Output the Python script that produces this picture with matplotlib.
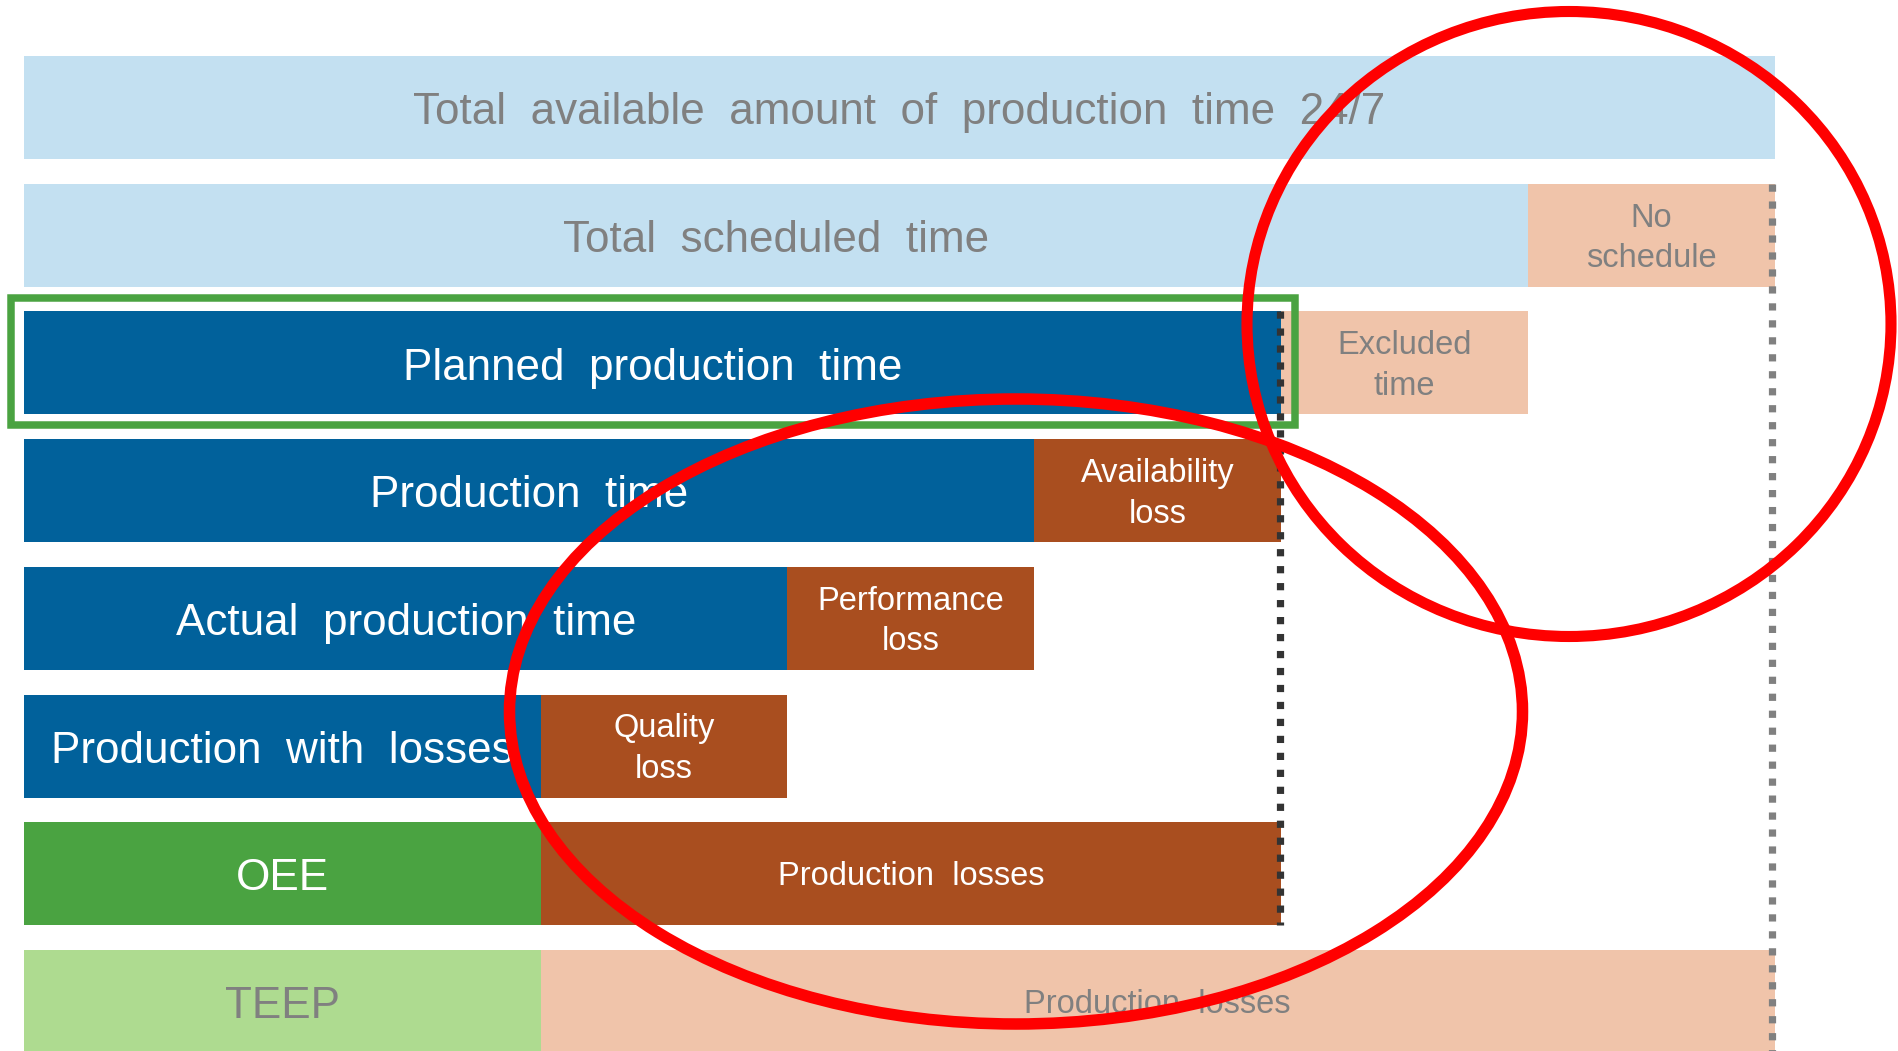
import matplotlib.pyplot as plt
from matplotlib.patches import Rectangle, Ellipse

plt.rcParams['font.family'] = ['Liberation Sans', 'DejaVu Sans']

# rows top to bottom, share of total available time (24/7 = 100)
row_labels = ["Total  available  amount  of  production  time  24/7", "Total  scheduled  time",
              "Planned  production  time", "Production  time", "Actual  production  time",
              "Production  with  losses", "OEE", "TEEP"]
main_values = [100, 85.9, 71.8, 57.7, 43.6, 29.5, 29.5, 29.5]
loss_values = [0, 14.1, 14.1, 14.1, 14.1, 14.1, 42.3, 70.5]
loss_labels = ["", "No\nschedule", "Excluded\ntime", "Availability\nloss", "Performance\nloss",
               "Quality\nloss", "Production  losses", "Production  losses"]

# colours
light_blue = "#C3E0F1"
dark_blue = "#01619B"
salmon = "#F0C4AA"
brown = "#A94E1F"
green = "#4AA341"
light_green = "#AEDB90"
gray = "#808080"

main_colors = [light_blue, light_blue, dark_blue, dark_blue, dark_blue, dark_blue, green, light_green]
main_text = [gray, gray, "white", "white", "white", "white", "white", gray]
loss_colors = [salmon, salmon, salmon, brown, brown, brown, brown, salmon]
loss_text = [gray, gray, gray, "white", "white", "white", "white", gray]

fig = plt.figure(figsize=(18.98, 10.51), dpi=100)
ax = fig.add_axes([0, 0, 1, 1])
ax.set_xlim(-1.371, 107.03)
ax.set_ylim(7.388, -0.842)
ax.axis("off")

h = 0.807
rows = range(len(row_labels))
ax.barh(rows, main_values, height=h, color=main_colors, zorder=2)
ax.barh(rows, loss_values, left=main_values, height=h, color=loss_colors, zorder=2)

for i in rows:
    ax.text(main_values[i] / 2, i + 0.04, row_labels[i], ha="center", va="center",
            fontsize=31.7, color=main_text[i], zorder=4)
    if loss_values[i] > 0:
        ax.text(main_values[i] + loss_values[i] / 2, i + 0.025, loss_labels[i], ha="center",
                va="center", fontsize=23.5, color=loss_text[i], linespacing=1.4, zorder=4)

# green frame around planned production time
planned = main_values[2]
ax.add_patch(Rectangle((-0.74, 2 - 0.508), planned + 0.79 + 0.74, 0.994, fill=False,
                       edgecolor=green, linewidth=5.4, zorder=3))

# dotted boundaries
ax.plot([planned - 0.05, planned - 0.05], [2 - h / 2, 6 + h / 2], color="#333333",
        linewidth=5.2, linestyle=(0, (1, 1.35)), solid_capstyle="butt", zorder=5)
ax.plot([99.85, 99.85], [1 - h / 2, 7.45], color=gray,
        linewidth=5.2, linestyle=(0, (1, 1.35)), solid_capstyle="butt", zorder=5)

# red hand-drawn style circles, in pixel space
over = fig.add_axes([0, 0, 1, 1])
over.set_xlim(0, 1898)
over.set_ylim(1051, 0)
over.axis("off")
over.patch.set_alpha(0)
over.add_patch(Ellipse((1569, 324), 644, 625, fill=False, edgecolor="#FF0000", linewidth=8.0))
over.add_patch(Ellipse((1016, 711.5), 1013, 625, fill=False, edgecolor="#FF0000", linewidth=8.3))

fig.savefig("out.png", dpi=100)
